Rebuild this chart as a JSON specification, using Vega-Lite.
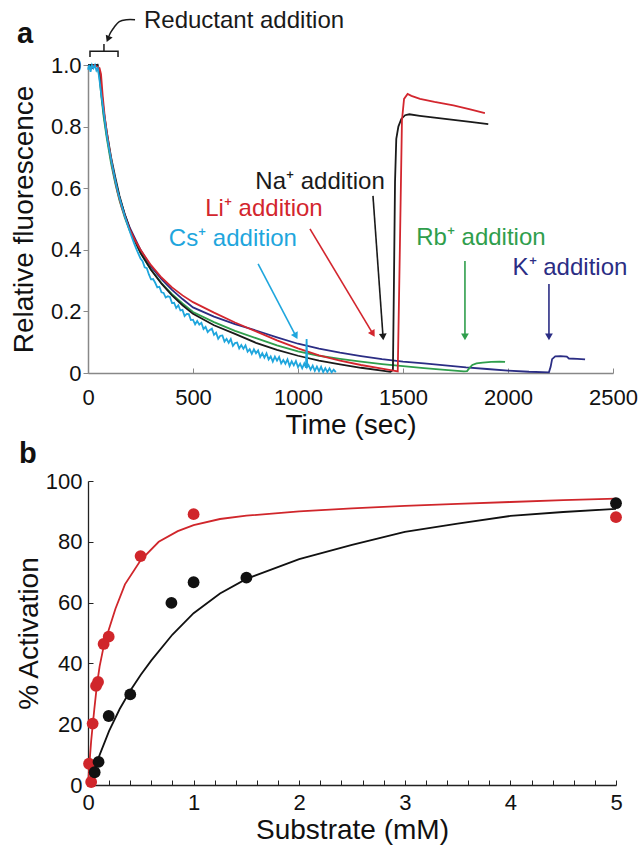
{
  "$schema": "https://vega.github.io/schema/vega-lite/v6.json",
  "padding": {"left": 10, "top": 8, "right": 5, "bottom": 5},
  "bounds": "flush",
  "spacing": 108,
  "resolve": {"scale": {"color": "independent"}},
  "config": {
    "view": {"stroke": null},
    "font": "Liberation Sans",
    "axis": {"grid": false, "labelFont": "Liberation Sans", "titleFont": "Liberation Sans", "labelFontSize": 22, "titleFontSize": 28, "titleFontWeight": "normal", "labelColor": "#111111", "titleColor": "#111111", "labelOverlap": false, "labelFlush": false}
  },
  "datasets": {
    "one": [{"k": 1}],
    "fluor": [
      {"ion":"K","t":0,"v":1.0},{"ion":"K","t":20,"v":0.99},{"ion":"K","t":45,"v":1.0},{"ion":"K","t":55,"v":0.97},{"ion":"K","t":65,"v":0.9},{"ion":"K","t":75,"v":0.84},{"ion":"K","t":90,"v":0.77},{"ion":"K","t":110,"v":0.69},{"ion":"K","t":130,"v":0.625},{"ion":"K","t":150,"v":0.57},{"ion":"K","t":175,"v":0.515},{"ion":"K","t":200,"v":0.47},{"ion":"K","t":250,"v":0.4},{"ion":"K","t":300,"v":0.345},{"ion":"K","t":350,"v":0.305},{"ion":"K","t":400,"v":0.27},{"ion":"K","t":450,"v":0.24},{"ion":"K","t":500,"v":0.213},{"ion":"K","t":600,"v":0.183},{"ion":"K","t":700,"v":0.159},{"ion":"K","t":800,"v":0.138},{"ion":"K","t":900,"v":0.116},{"ion":"K","t":1000,"v":0.095},{"ion":"K","t":1100,"v":0.079},{"ion":"K","t":1200,"v":0.066},{"ion":"K","t":1300,"v":0.055},{"ion":"K","t":1400,"v":0.045},{"ion":"K","t":1500,"v":0.037},{"ion":"K","t":1600,"v":0.031},{"ion":"K","t":1700,"v":0.025},{"ion":"K","t":1800,"v":0.018},{"ion":"K","t":1900,"v":0.013},{"ion":"K","t":2000,"v":0.008},{"ion":"K","t":2100,"v":0.004},{"ion":"K","t":2195,"v":0.002},{"ion":"K","t":2203,"v":0.02},{"ion":"K","t":2210,"v":0.045},{"ion":"K","t":2225,"v":0.054},{"ion":"K","t":2250,"v":0.055},{"ion":"K","t":2280,"v":0.053},{"ion":"K","t":2290,"v":0.047},{"ion":"K","t":2330,"v":0.046},{"ion":"K","t":2367,"v":0.044},
      {"ion":"Rb","t":0,"v":0.99},{"ion":"Rb","t":45,"v":1.0},{"ion":"Rb","t":55,"v":0.96},{"ion":"Rb","t":65,"v":0.89},{"ion":"Rb","t":75,"v":0.83},{"ion":"Rb","t":90,"v":0.76},{"ion":"Rb","t":110,"v":0.68},{"ion":"Rb","t":130,"v":0.615},{"ion":"Rb","t":150,"v":0.56},{"ion":"Rb","t":175,"v":0.505},{"ion":"Rb","t":200,"v":0.46},{"ion":"Rb","t":250,"v":0.39},{"ion":"Rb","t":300,"v":0.335},{"ion":"Rb","t":350,"v":0.292},{"ion":"Rb","t":400,"v":0.256},{"ion":"Rb","t":450,"v":0.226},{"ion":"Rb","t":500,"v":0.198},{"ion":"Rb","t":600,"v":0.165},{"ion":"Rb","t":700,"v":0.137},{"ion":"Rb","t":800,"v":0.113},{"ion":"Rb","t":900,"v":0.09},{"ion":"Rb","t":1000,"v":0.07},{"ion":"Rb","t":1100,"v":0.056},{"ion":"Rb","t":1200,"v":0.046},{"ion":"Rb","t":1300,"v":0.037},{"ion":"Rb","t":1400,"v":0.029},{"ion":"Rb","t":1500,"v":0.022},{"ion":"Rb","t":1600,"v":0.016},{"ion":"Rb","t":1700,"v":0.01},{"ion":"Rb","t":1790,"v":0.005},{"ion":"Rb","t":1805,"v":0.006},{"ion":"Rb","t":1815,"v":0.015},{"ion":"Rb","t":1830,"v":0.026},{"ion":"Rb","t":1850,"v":0.031},{"ion":"Rb","t":1880,"v":0.034},{"ion":"Rb","t":1920,"v":0.036},{"ion":"Rb","t":1960,"v":0.037},{"ion":"Rb","t":1986,"v":0.036},
      {"ion":"Na","t":0,"v":1.0},{"ion":"Na","t":45,"v":1.0},{"ion":"Na","t":55,"v":0.97},{"ion":"Na","t":65,"v":0.91},{"ion":"Na","t":75,"v":0.85},{"ion":"Na","t":90,"v":0.78},{"ion":"Na","t":110,"v":0.7},{"ion":"Na","t":130,"v":0.635},{"ion":"Na","t":150,"v":0.575},{"ion":"Na","t":175,"v":0.515},{"ion":"Na","t":200,"v":0.465},{"ion":"Na","t":250,"v":0.39},{"ion":"Na","t":300,"v":0.335},{"ion":"Na","t":350,"v":0.29},{"ion":"Na","t":400,"v":0.252},{"ion":"Na","t":450,"v":0.22},{"ion":"Na","t":500,"v":0.192},{"ion":"Na","t":600,"v":0.155},{"ion":"Na","t":700,"v":0.127},{"ion":"Na","t":800,"v":0.098},{"ion":"Na","t":900,"v":0.075},{"ion":"Na","t":1000,"v":0.056},{"ion":"Na","t":1100,"v":0.04},{"ion":"Na","t":1200,"v":0.028},{"ion":"Na","t":1300,"v":0.017},{"ion":"Na","t":1400,"v":0.008},{"ion":"Na","t":1440,"v":0.004},{"ion":"Na","t":1452,"v":0.01},{"ion":"Na","t":1457,"v":0.3},{"ion":"Na","t":1462,"v":0.62},{"ion":"Na","t":1468,"v":0.76},{"ion":"Na","t":1478,"v":0.8},{"ion":"Na","t":1492,"v":0.825},{"ion":"Na","t":1510,"v":0.837},{"ion":"Na","t":1530,"v":0.84},{"ion":"Na","t":1580,"v":0.835},{"ion":"Na","t":1650,"v":0.829},{"ion":"Na","t":1740,"v":0.822},{"ion":"Na","t":1820,"v":0.815},{"ion":"Na","t":1906,"v":0.808},
      {"ion":"Li","t":10,"v":0.99},{"ion":"Li","t":30,"v":1.0},{"ion":"Li","t":55,"v":0.99},{"ion":"Li","t":62,"v":0.97},{"ion":"Li","t":70,"v":0.9},{"ion":"Li","t":80,"v":0.83},{"ion":"Li","t":90,"v":0.78},{"ion":"Li","t":100,"v":0.735},{"ion":"Li","t":120,"v":0.655},{"ion":"Li","t":140,"v":0.59},{"ion":"Li","t":160,"v":0.54},{"ion":"Li","t":180,"v":0.5},{"ion":"Li","t":200,"v":0.465},{"ion":"Li","t":225,"v":0.43},{"ion":"Li","t":250,"v":0.4},{"ion":"Li","t":300,"v":0.35},{"ion":"Li","t":350,"v":0.31},{"ion":"Li","t":400,"v":0.278},{"ion":"Li","t":450,"v":0.252},{"ion":"Li","t":500,"v":0.23},{"ion":"Li","t":600,"v":0.196},{"ion":"Li","t":700,"v":0.164},{"ion":"Li","t":800,"v":0.135},{"ion":"Li","t":900,"v":0.106},{"ion":"Li","t":1000,"v":0.08},{"ion":"Li","t":1100,"v":0.057},{"ion":"Li","t":1200,"v":0.04},{"ion":"Li","t":1300,"v":0.026},{"ion":"Li","t":1400,"v":0.014},{"ion":"Li","t":1475,"v":0.005},{"ion":"Li","t":1485,"v":0.4},{"ion":"Li","t":1495,"v":0.82},{"ion":"Li","t":1505,"v":0.89},{"ion":"Li","t":1522,"v":0.906},{"ion":"Li","t":1540,"v":0.9},{"ion":"Li","t":1581,"v":0.89},{"ion":"Li","t":1650,"v":0.88},{"ion":"Li","t":1740,"v":0.869},{"ion":"Li","t":1820,"v":0.856},{"ion":"Li","t":1890,"v":0.844},
      {"ion":"Cs","t":0,"v":0.985},{"ion":"Cs","t":6,"v":1.0},{"ion":"Cs","t":12,"v":0.978},{"ion":"Cs","t":19,"v":1.0},{"ion":"Cs","t":26,"v":0.99},{"ion":"Cs","t":33,"v":1.0},{"ion":"Cs","t":40,"v":0.982},{"ion":"Cs","t":47,"v":0.99},{"ion":"Cs","t":55,"v":0.95},{"ion":"Cs","t":62,"v":0.91},{"ion":"Cs","t":70,"v":0.87},{"ion":"Cs","t":80,"v":0.82},{"ion":"Cs","t":90,"v":0.77},{"ion":"Cs","t":100,"v":0.73},{"ion":"Cs","t":115,"v":0.675},{"ion":"Cs","t":130,"v":0.625},{"ion":"Cs","t":145,"v":0.58},{"ion":"Cs","t":160,"v":0.545},{"ion":"Cs","t":175,"v":0.51},{"ion":"Cs","t":190,"v":0.478},{"ion":"Cs","t":205,"v":0.448},{"ion":"Cs","t":220,"v":0.42},{"ion":"Cs","t":235,"v":0.395},{"ion":"Cs","t":250,"v":0.372},
      {"ion":"Cs","t":260,"v":0.363},{"ion":"Cs","t":270,"v":0.343},{"ion":"Cs","t":280,"v":0.34},{"ion":"Cs","t":290,"v":0.32},{"ion":"Cs","t":300,"v":0.304},{"ion":"Cs","t":310,"v":0.305},{"ion":"Cs","t":320,"v":0.293},{"ion":"Cs","t":330,"v":0.278},{"ion":"Cs","t":340,"v":0.28},{"ion":"Cs","t":350,"v":0.262},{"ion":"Cs","t":360,"v":0.26},{"ion":"Cs","t":370,"v":0.245},{"ion":"Cs","t":380,"v":0.249},{"ion":"Cs","t":390,"v":0.247},{"ion":"Cs","t":400,"v":0.227},{"ion":"Cs","t":410,"v":0.228},{"ion":"Cs","t":420,"v":0.211},{"ion":"Cs","t":430,"v":0.22},{"ion":"Cs","t":440,"v":0.203},{"ion":"Cs","t":450,"v":0.205},{"ion":"Cs","t":460,"v":0.185},{"ion":"Cs","t":470,"v":0.192},{"ion":"Cs","t":480,"v":0.191},{"ion":"Cs","t":490,"v":0.172},{"ion":"Cs","t":500,"v":0.173},{"ion":"Cs","t":510,"v":0.158},{"ion":"Cs","t":520,"v":0.169},{"ion":"Cs","t":530,"v":0.157},{"ion":"Cs","t":540,"v":0.163},{"ion":"Cs","t":550,"v":0.143},{"ion":"Cs","t":560,"v":0.15},{"ion":"Cs","t":570,"v":0.133},{"ion":"Cs","t":580,"v":0.14},{"ion":"Cs","t":590,"v":0.144},{"ion":"Cs","t":600,"v":0.124},{"ion":"Cs","t":610,"v":0.131},{"ion":"Cs","t":620,"v":0.111},{"ion":"Cs","t":630,"v":0.121},{"ion":"Cs","t":640,"v":0.122},{"ion":"Cs","t":650,"v":0.102},{"ion":"Cs","t":660,"v":0.111},{"ion":"Cs","t":670,"v":0.098},{"ion":"Cs","t":680,"v":0.11},{"ion":"Cs","t":690,"v":0.088},{"ion":"Cs","t":700,"v":0.097},{"ion":"Cs","t":710,"v":0.099},{"ion":"Cs","t":720,"v":0.08},{"ion":"Cs","t":730,"v":0.091},{"ion":"Cs","t":740,"v":0.079},{"ion":"Cs","t":750,"v":0.09},{"ion":"Cs","t":760,"v":0.069},{"ion":"Cs","t":770,"v":0.077},{"ion":"Cs","t":780,"v":0.062},{"ion":"Cs","t":790,"v":0.077},{"ion":"Cs","t":800,"v":0.064},{"ion":"Cs","t":810,"v":0.073},{"ion":"Cs","t":820,"v":0.052},{"ion":"Cs","t":830,"v":0.064},{"ion":"Cs","t":840,"v":0.05},{"ion":"Cs","t":850,"v":0.064},{"ion":"Cs","t":860,"v":0.044},{"ion":"Cs","t":870,"v":0.054},{"ion":"Cs","t":880,"v":0.037},{"ion":"Cs","t":890,"v":0.053},{"ion":"Cs","t":900,"v":0.04},{"ion":"Cs","t":910,"v":0.052},{"ion":"Cs","t":920,"v":0.031},{"ion":"Cs","t":930,"v":0.042},{"ion":"Cs","t":940,"v":0.03},{"ion":"Cs","t":950,"v":0.044},{"ion":"Cs","t":960,"v":0.023},{"ion":"Cs","t":970,"v":0.038},{"ion":"Cs","t":980,"v":0.025},{"ion":"Cs","t":990,"v":0.039},{"ion":"Cs","t":1000,"v":0.019},{"ion":"Cs","t":1010,"v":0.03},{"ion":"Cs","t":1020,"v":0.015},{"ion":"Cs","t":1030,"v":0.031},{"ion":"Cs","t":1038,"v":0.017},{"ion":"Cs","t":1041,"v":0.11},{"ion":"Cs","t":1044,"v":0.02},{"ion":"Cs","t":1050,"v":0.026},{"ion":"Cs","t":1060,"v":0.011},{"ion":"Cs","t":1070,"v":0.024},{"ion":"Cs","t":1080,"v":0.007},{"ion":"Cs","t":1090,"v":0.021},{"ion":"Cs","t":1100,"v":0.006},{"ion":"Cs","t":1110,"v":0.02},{"ion":"Cs","t":1120,"v":0.003},{"ion":"Cs","t":1130,"v":0.016},{"ion":"Cs","t":1140,"v":0.003},{"ion":"Cs","t":1150,"v":0.015},{"ion":"Cs","t":1160,"v":0.002},{"ion":"Cs","t":1170,"v":0.011},{"ion":"Cs","t":1180,"v":0.003}
    ],
    "addlabels": [
      {"ion":"Na","text":"Na⁺ addition","t":1105,"v":0.62},
      {"ion":"Li","text":"Li⁺ addition","t":838,"v":0.532},
      {"ion":"Cs","text":"Cs⁺ addition","t":690,"v":0.435},
      {"ion":"Rb","text":"Rb⁺ addition","t":1871,"v":0.438},
      {"ion":"K","text":"K⁺ addition","t":2295,"v":0.341}
    ],
    "arrows": [
      {"ion":"Na","t1":1357,"v1":0.575,"t2":1405,"v2":0.117},
      {"ion":"Li","t1":1057,"v1":0.468,"t2":1357,"v2":0.127},
      {"ion":"Cs","t1":810,"v1":0.354,"t2":990,"v2":0.12},
      {"ion":"Rb","t1":1795,"v1":0.364,"t2":1795,"v2":0.117},
      {"ion":"K","t1":2195,"v1":0.289,"t2":2195,"v2":0.117}
    ],
    "bracket": [
      {"seg":"bracket","o":1,"t":9.5,"v":1.026},{"seg":"bracket","o":2,"t":9.5,"v":1.045},{"seg":"bracket","o":3,"t":143,"v":1.045},{"seg":"bracket","o":4,"t":143,"v":1.026},
      {"seg":"stem","o":1,"t":76,"v":1.045},{"seg":"stem","o":2,"t":76,"v":1.068}
    ],
    "curve": [
      {"o":1,"t":224,"v":1.147},{"o":2,"t":184,"v":1.147},{"o":3,"t":149,"v":1.141},{"o":4,"t":124,"v":1.122},{"o":5,"t":108,"v":1.106},{"o":6,"t":100,"v":1.094}
    ],
    "fits": [
      {"set":"Set 1","s":0,"a":0},{"set":"Set 1","s":0.01,"a":5},{"set":"Set 1","s":0.02,"a":10},{"set":"Set 1","s":0.03,"a":14.5},{"set":"Set 1","s":0.044,"a":19.5},{"set":"Set 1","s":0.06,"a":25},{"set":"Set 1","s":0.085,"a":33},{"set":"Set 1","s":0.11,"a":39},{"set":"Set 1","s":0.148,"a":45.5},{"set":"Set 1","s":0.196,"a":51},{"set":"Set 1","s":0.26,"a":58},{"set":"Set 1","s":0.35,"a":66},{"set":"Set 1","s":0.5,"a":74},{"set":"Set 1","s":0.67,"a":80},{"set":"Set 1","s":0.85,"a":83.5},{"set":"Set 1","s":1.0,"a":85.5},{"set":"Set 1","s":1.25,"a":87.5},{"set":"Set 1","s":1.5,"a":88.6},{"set":"Set 1","s":2.0,"a":90},{"set":"Set 1","s":2.5,"a":91},{"set":"Set 1","s":3.0,"a":91.8},{"set":"Set 1","s":3.5,"a":92.5},{"set":"Set 1","s":4.0,"a":93.1},{"set":"Set 1","s":4.5,"a":93.7},{"set":"Set 1","s":5.0,"a":94.2},
      {"set":"Set 2","s":0,"a":0},{"set":"Set 2","s":0.05,"a":4.5},{"set":"Set 2","s":0.1,"a":9},{"set":"Set 2","s":0.2,"a":17.8},{"set":"Set 2","s":0.3,"a":25},{"set":"Set 2","s":0.4,"a":31},{"set":"Set 2","s":0.5,"a":36.3},{"set":"Set 2","s":0.6,"a":41},{"set":"Set 2","s":0.8,"a":49.5},{"set":"Set 2","s":1.0,"a":56.5},{"set":"Set 2","s":1.25,"a":63},{"set":"Set 2","s":1.5,"a":67.8},{"set":"Set 2","s":2.0,"a":74.3},{"set":"Set 2","s":2.5,"a":79},{"set":"Set 2","s":3.0,"a":83.3},{"set":"Set 2","s":3.5,"a":86},{"set":"Set 2","s":4.0,"a":88.5},{"set":"Set 2","s":4.5,"a":89.8},{"set":"Set 2","s":5.0,"a":90.8}
    ],
    "pts": [
      {"set":"Set 1","s":0.01,"a":7},{"set":"Set 1","s":0.03,"a":1},{"set":"Set 1","s":0.044,"a":20.2},{"set":"Set 1","s":0.076,"a":32.6},{"set":"Set 1","s":0.095,"a":33.9},{"set":"Set 1","s":0.148,"a":46.4},{"set":"Set 1","s":0.196,"a":48.8},{"set":"Set 1","s":0.498,"a":75.3},{"set":"Set 1","s":1.0,"a":89.1},{"set":"Set 1","s":5.0,"a":88.1},
      {"set":"Set 2","s":0.063,"a":4.2},{"set":"Set 2","s":0.1,"a":7.6},{"set":"Set 2","s":0.196,"a":22.7},{"set":"Set 2","s":0.4,"a":29.8},{"set":"Set 2","s":0.79,"a":59.9},{"set":"Set 2","s":1.0,"a":66.7},{"set":"Set 2","s":1.5,"a":68.2},{"set":"Set 2","s":5.0,"a":92.7}
    ]
  },
  "vconcat": [
    {
      "width": 525,
      "height": 308,
      "layer": [
        {
          "data": {"name": "fluor"},
          "mark": {"type": "line", "strokeWidth": 1.8},
          "encoding": {
            "x": {"field": "t", "type": "quantitative", "scale": {"domain": [0, 2500], "nice": false},
                  "axis": {"title": "Time (sec)", "values": [0, 500, 1000, 1500, 2000, 2500], "format": "d", "tickSize": -5, "labelPadding": 19, "titlePadding": 3, "labelOverlap": false, "domainColor": "#888888", "tickColor": "#888888", "domainWidth": 1.5}},
            "y": {"field": "v", "type": "quantitative", "scale": {"domain": [0, 1], "nice": false},
                  "axis": {"title": "Relative fluorescence", "values": [0, 0.2, 0.4, 0.6, 0.8, 1], "labelExpr": "datum.value == 0 ? '0' : format(datum.value, '.1f')", "tickSize": 5, "labelPadding": 2, "titlePadding": 12, "labelOverlap": false, "domainColor": "#888888", "tickColor": "#888888", "domainWidth": 1.5}},
            "color": {"field": "ion", "type": "nominal", "scale": {"domain": ["K", "Rb", "Na", "Li", "Cs"], "range": ["#2b2d84", "#2f9e4c", "#1a1a1a", "#d3262e", "#1fa6dd"]}, "legend": null}
          }
        },
        {
          "data": {"name": "arrows"},
          "mark": {"type": "rule", "strokeWidth": 1.6},
          "encoding": {
            "x": {"field": "t1", "type": "quantitative"},
            "y": {"field": "v1", "type": "quantitative"},
            "x2": {"field": "t2"},
            "y2": {"field": "v2"},
            "color": {"field": "ion", "type": "nominal"}
          }
        },
        {
          "data": {"name": "arrows"},
          "transform": [{"filter": "datum.ion == 'Rb' || datum.ion == 'K'"}],
          "mark": {"type": "point", "shape": "triangle-down", "filled": true, "opacity": 1, "size": 60},
          "encoding": {"x": {"field": "t2", "type": "quantitative"}, "y": {"field": "v2", "type": "quantitative"}, "color": {"field": "ion", "type": "nominal"}}
        },
        {
          "data": {"name": "arrows"},
          "transform": [{"filter": "datum.ion == 'Na'"}],
          "mark": {"type": "point", "shape": "triangle-down", "filled": true, "opacity": 1, "size": 60, "angle": 356},
          "encoding": {"x": {"field": "t2", "type": "quantitative"}, "y": {"field": "v2", "type": "quantitative"}, "color": {"field": "ion", "type": "nominal"}}
        },
        {
          "data": {"name": "arrows"},
          "transform": [{"filter": "datum.ion == 'Li'"}],
          "mark": {"type": "point", "shape": "triangle-down", "filled": true, "opacity": 1, "size": 60, "angle": 329},
          "encoding": {"x": {"field": "t2", "type": "quantitative"}, "y": {"field": "v2", "type": "quantitative"}, "color": {"field": "ion", "type": "nominal"}}
        },
        {
          "data": {"name": "arrows"},
          "transform": [{"filter": "datum.ion == 'Cs'"}],
          "mark": {"type": "point", "shape": "triangle-down", "filled": true, "opacity": 1, "size": 60, "angle": 332},
          "encoding": {"x": {"field": "t2", "type": "quantitative"}, "y": {"field": "v2", "type": "quantitative"}, "color": {"field": "ion", "type": "nominal"}}
        },
        {
          "data": {"name": "addlabels"},
          "mark": {"type": "text", "fontSize": 24, "align": "center", "baseline": "middle"},
          "encoding": {"x": {"field": "t", "type": "quantitative"}, "y": {"field": "v", "type": "quantitative"}, "text": {"field": "text"}, "color": {"field": "ion", "type": "nominal"}}
        },
        {
          "data": {"name": "bracket"},
          "mark": {"type": "line", "strokeWidth": 1.5, "color": "#1a1a1a", "clip": false},
          "encoding": {"x": {"field": "t", "type": "quantitative"}, "y": {"field": "v", "type": "quantitative"}, "detail": {"field": "seg"}, "order": {"field": "o"}}
        },
        {
          "data": {"name": "curve"},
          "mark": {"type": "line", "strokeWidth": 1.5, "color": "#1a1a1a", "clip": false, "interpolate": "cardinal"},
          "encoding": {"x": {"field": "t", "type": "quantitative"}, "y": {"field": "v", "type": "quantitative"}, "order": {"field": "o"}}
        },
        {
          "data": {"name": "one"},
          "mark": {"type": "point", "shape": "triangle-down", "filled": true, "opacity": 1, "size": 55, "angle": 23, "color": "#1a1a1a", "clip": false},
          "encoding": {"x": {"datum": 95}, "y": {"datum": 1.084}}
        },
        {
          "data": {"name": "one"},
          "mark": {"type": "text", "fontSize": 24, "align": "center", "baseline": "middle", "color": "#1a1a1a", "clip": false},
          "encoding": {"x": {"datum": 743}, "y": {"datum": 1.143}, "text": {"value": "Reductant addition"}}
        },
        {
          "data": {"name": "one"},
          "mark": {"type": "text", "fontSize": 29, "fontWeight": "bold", "align": "left", "baseline": "middle", "color": "#111111", "clip": false},
          "encoding": {"x": {"datum": -338}, "y": {"datum": 1.101}, "text": {"value": "a"}}
        }
      ]
    },
    {
      "width": 528,
      "height": 304,
      "resolve": {"axis": {"x": "independent"}},
      "layer": [
        {
          "data": {"name": "fits"},
          "mark": {"type": "line", "strokeWidth": 1.8},
          "encoding": {
            "x": {"field": "s", "type": "quantitative", "scale": {"domain": [0, 5], "nice": false},
                  "axis": {"orient": "bottom", "title": "Substrate (mM)", "values": [0, 1, 2, 3, 4, 5], "format": "d", "tickSize": -5, "labelPadding": 12, "titlePadding": 3, "labelOverlap": false, "domainColor": "#222222", "tickColor": "#222222", "domainWidth": 1.3}},
            "y": {"field": "a", "type": "quantitative", "scale": {"domain": [0, 100], "nice": false},
                  "axis": {"title": "% Activation", "values": [0,5,10,15,20,25,30,35,40,45,50,55,60,65,70,75,80,85,90,95,100], "labelExpr": "datum.value % 20 == 0 ? format(datum.value, 'd') : ' '", "tickSize": -5, "labelPadding": 11, "titlePadding": 2, "domainColor": "#222222", "tickColor": "#222222", "domainWidth": 1.3}},
            "color": {"field": "set", "type": "nominal", "scale": {"domain": ["Set 1", "Set 2"], "range": ["#d0262b", "#111111"]}, "legend": null}
          }
        },
        {
          "data": {"name": "pts"},
          "mark": {"type": "circle", "size": 140, "opacity": 1},
          "encoding": {
            "x": {"field": "s", "type": "quantitative",
                  "axis": {"orient": "bottom", "title": null, "labels": false, "domain": false, "values": [0.2,0.4,0.6,0.8,1.2,1.4,1.6,1.8,2.2,2.4,2.6,2.8,3.2,3.4,3.6,3.8,4.2,4.4,4.6,4.8], "tickSize": -5, "tickColor": "#222222"}},
            "y": {"field": "a", "type": "quantitative"},
            "color": {"field": "set", "type": "nominal"}
          }
        },
        {
          "data": {"name": "one"},
          "mark": {"type": "text", "fontSize": 29, "fontWeight": "bold", "align": "left", "baseline": "middle", "color": "#111111", "clip": false},
          "encoding": {"x": {"datum": -0.653, "axis": null}, "y": {"datum": 108.9}, "text": {"value": "b"}}
        }
      ]
    }
  ]
}
